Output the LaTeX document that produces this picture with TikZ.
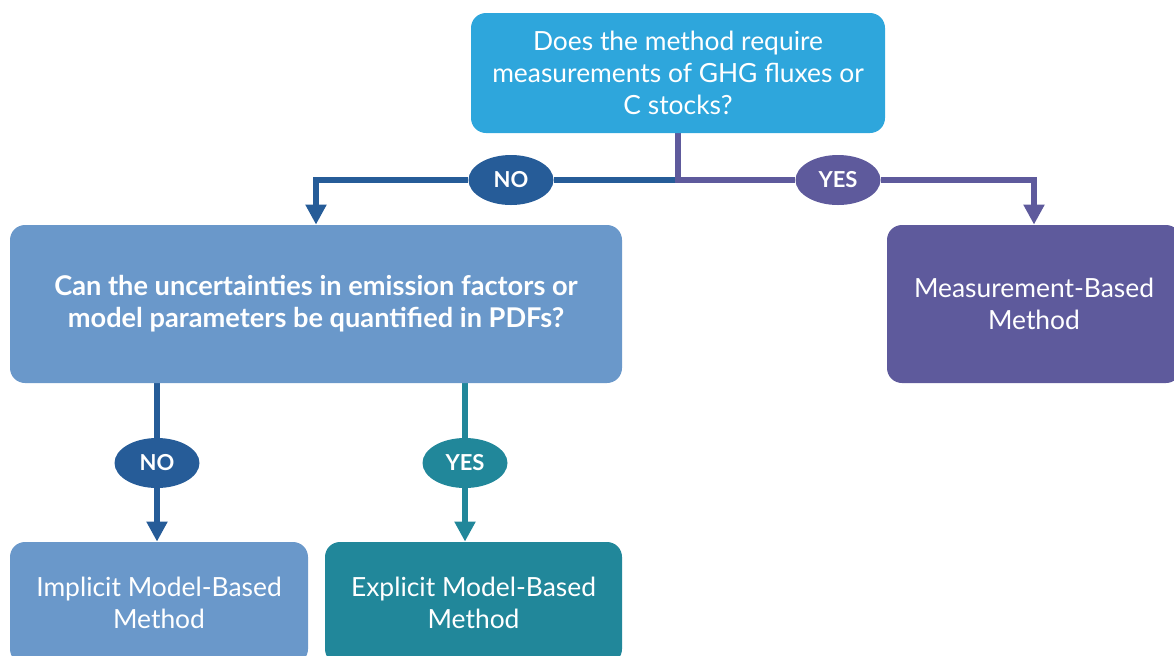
\documentclass[tikz,border=0pt]{standalone}
\usepackage{fontspec}
\setmainfont{Lato}
\usetikzlibrary{positioning, arrows.meta, backgrounds, shapes.geometric}
\definecolor{topblue}{HTML}{2EA6DC}
\definecolor{midblue}{HTML}{6A98CA}
\definecolor{noblue}{HTML}{265C98}
\definecolor{yespurple}{HTML}{5E5A9C}
\definecolor{yesteal}{HTML}{21879A}

\begin{document}
\begin{tikzpicture}[x=0.5pt,y=-0.5pt,>={Triangle[length=10pt,width=10pt]},
    link/.style={->,line width=3pt,draw=#1},
    method box/.style={rounded corners=7.5pt,fill=#1,text=white,align=center,
      inner sep=0pt,font=\fontsize{13.2}{16}\selectfont},
    answer node/.style={ellipse,fill=#1,text=white,minimum width=42.5pt,
      minimum height=25pt,inner sep=0pt,font=\bfseries\fontsize{11}{12}\selectfont}]
    \useasboundingbox (0,0) rectangle (1174,655);
    \clip (0,0) rectangle (1174,655);
    % boxes
    \node[method box=topblue,minimum width=207pt,minimum height=60pt] (need) at (678,73)
      {Does the method require\\measurements of GHG fluxes or\\C stocks?};
    \node[method box=midblue,minimum width=306pt,minimum height=79pt,font=\bfseries\fontsize{13.6}{16}\selectfont]
      (pdf) at (316,304) {Can the uncertainties in emission factors or\\model parameters be quantified in PDFs?};
    \node[method box=yespurple,minimum width=147pt,minimum height=79pt] (meas) at (1034,304)
      {Measurement-Based\\Method};
    \node[method box=midblue,minimum width=149pt,minimum height=61pt] (impl) at (159,603)
      {Implicit Model-Based\\Method};
    \node[method box=yesteal,minimum width=148.5pt,minimum height=61pt] (expl) at (473.5,603)
      {Explicit Model-Based\\Method};
    % answers
    \node[answer node=noblue] (no1) at (511,180) {NO};
    \node[answer node=yespurple] (yes1) at (838,180) {YES};
    \node[answer node=noblue] (no2) at (157,463) {NO};
    \node[answer node=yesteal] (yes2) at (465,463) {YES};
    \coordinate (split) at (need.south |- no1);
    \begin{scope}[on background layer]
    \draw[link=noblue] (split) -- (no1) -| (pdf.north);
    \draw[link=yespurple] (need.south) -- (split) -- (yes1) -| (meas.north);
    \draw[link=noblue] (no2 |- pdf.south) -- (no2) -- (no2 |- impl.north);
    \draw[link=yesteal] (yes2 |- pdf.south) -- (yes2) -- (yes2 |- expl.north);
    \end{scope}
\end{tikzpicture}
\end{document}
